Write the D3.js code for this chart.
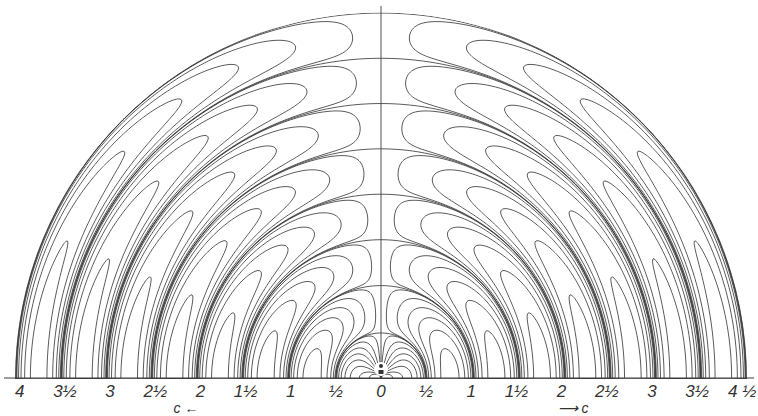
<!DOCTYPE html>
<html>
  <head>
    <meta charset="utf-8" />
    <title>Hertz oscillator field lines</title>
    <script src="https://cdn.jsdelivr.net/npm/d3@7"></script>
    <style>
      body { margin: 0; background: #fff; }
      text { font-family: "Liberation Sans", Arial, sans-serif; font-style: italic; fill: #333; }
    </style>
  </head>
  <body>
    <svg id="chart" width="758" height="416"></svg>
    <script>
      // distances along the axis, in wavelengths
      const tickValues = [0, 0.5, 1, 1.5, 2, 2.5, 3, 3.5, 4];
      const leftLabels = ["0", "½", "1", "1½", "2", "2½", "3", "3½", "4"];
      const rightLabels = ["0", "½", "1", "1½", "2", "2½", "3", "3½", "4 ½"];
      // values of the stream function Q drawn as field lines (both signs)
      const lineLevels = [0.0069, 0.0625, 0.174, 0.34, 0.5625, 0.84, 1.17, 1.56];
      const phase = 0.3;      // phase of the oscillation, radians
      const rings = 8;        // number of half-wave zones shown

      const cx = 381, base = 378, lam = 90.3;
      const svg = d3.select("#chart");

      const x = d3.scaleLinear().domain([-4, 4]).range([cx - 4 * lam, cx + 4 * lam]);

      // radial part of Hertz's function
      function radial(r) {
        const kr = 2 * Math.PI * Math.max(r, 0.004);
        return Math.sin(kr - phase) + Math.cos(kr - phase) / kr;
      }

      // outer boundary = 8th zero of the radial part
      let lo = rings / 2 - 0.2, hi = rings / 2 + 0.2;
      for (let k = 0; k < 60; k++) {
        const mid = (lo + hi) / 2;
        if (Math.sign(radial(mid)) === Math.sign(radial(lo))) lo = mid; else hi = mid;
      }
      const R = lo * lam;

      const gx0 = Math.floor(cx - R - 3), gx1 = Math.ceil(cx + R + 3);
      const gy0 = Math.floor(base - R - 3);
      const n = gx1 - gx0 + 1, m = base - gy0 + 1;
      const q = new Float64Array(n * m), g = new Float64Array(n * m);
      for (let j = 0; j < m; j++) {
        for (let i = 0; i < n; i++) {
          const X = (gx0 + i - cx) / lam, Y = (base - (gy0 + j)) / lam;
          const r2 = Math.max(X * X + Y * Y, 1e-6);
          const f = radial(Math.sqrt(r2));
          g[j * n + i] = f;
          q[j * n + i] = (X * X / r2) * f;
        }
      }

      const clip = d3.path();
      clip.moveTo(cx - R - 1, base + 0.5);
      clip.arc(cx, base + 0.5, R + 1, Math.PI, 2 * Math.PI);
      clip.closePath();
      svg.append("clipPath").attr("id", "half").append("path").attr("d", clip.toString());

      const thresholds = lineLevels.map(d => -d).reverse().concat(lineLevels);
      const lines = d3.contours().size([n, m]).thresholds(thresholds)(q);
      const zeros = d3.contours().size([n, m]).thresholds([0])(g);

      const field = svg.append("g").attr("clip-path", "url(#half)")
        .append("g").attr("transform", `translate(${gx0 - 0.5},${gy0 - 0.5})`)
        .attr("fill", "none").attr("stroke", "#3d3d3d").attr("stroke-width", 0.85);
      field.selectAll("path.q").data(lines).join("path").attr("class", "q").attr("d", d3.geoPath());
      field.selectAll("path.z").data(zeros).join("path").attr("class", "z").attr("d", d3.geoPath());

      // axis of the oscillator and base line
      svg.append("line").attr("x1", cx).attr("x2", cx).attr("y1", 6).attr("y2", base)
        .attr("stroke", "#3d3d3d").attr("stroke-width", 0.9);
      svg.append("line").attr("x1", 4).attr("x2", 754).attr("y1", base).attr("y2", base)
        .attr("stroke", "#3d3d3d").attr("stroke-width", 1);

      // the oscillator itself
      svg.append("circle").attr("cx", cx).attr("cy", base - 9).attr("r", 7).attr("fill", "#fff");
      svg.append("circle").attr("cx", cx).attr("cy", base - 12).attr("r", 2).attr("fill", "#333");
      svg.append("rect").attr("x", cx - 2.5).attr("y", base - 8).attr("width", 5).attr("height", 4).attr("fill", "#333");

      const labels = svg.append("g").attr("font-size", 17).attr("text-anchor", "middle");
      labels.selectAll("text.l").data(tickValues).join("text").attr("class", "l")
        .attr("x", d => x(-d)).attr("y", 397).text((d, i) => leftLabels[i]);
      labels.selectAll("text.r").data(tickValues.slice(1)).join("text").attr("class", "r")
        .attr("x", d => x(d)).attr("y", 397).text((d, i) => rightLabels[i + 1]);

      svg.append("text").attr("x", 186).attr("y", 413).attr("font-size", 14)
        .attr("text-anchor", "middle").text("c ←");
      svg.append("text").attr("x", 573).attr("y", 413).attr("font-size", 14)
        .attr("text-anchor", "middle").text("⟶ c");
    </script>
  </body>
</html>
